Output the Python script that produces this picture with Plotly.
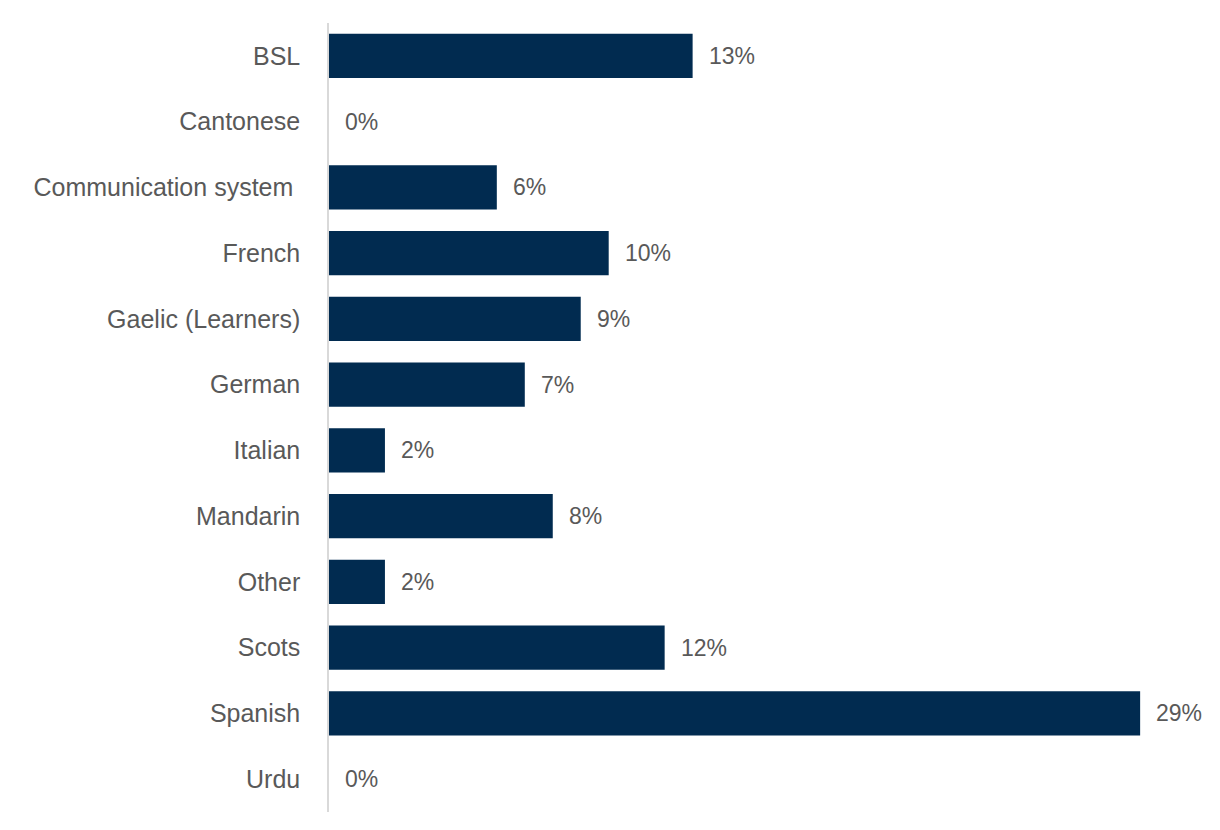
import plotly.graph_objects as go

categories = ["BSL", "Cantonese", "Communication system ", "French", "Gaelic (Learners)",
              "German", "Italian", "Mandarin", "Other", "Scots", "Spanish", "Urdu"]
values = [13, 0, 6, 10, 9, 7, 2, 8, 2, 12, 29, 0]
labels = [f"{v}%" for v in values]

bar_color = "#012b50"
text_color = "#595959"
font_family = "Liberation Sans, Arial, sans-serif"

fig = go.Figure()
fig.add_trace(go.Bar(
    x=values, y=categories, orientation="h",
    marker=dict(color=bar_color, line=dict(width=0)),
    hoverinfo="skip",
))

for c, v, t in zip(categories, values, labels):
    fig.add_annotation(x=v, y=c, text=t, showarrow=False, xanchor="left",
                       xshift=14, font=dict(size=23, color=text_color, family=font_family))

fig.update_layout(
    width=1220, height=830,
    margin=dict(l=329, r=20, t=23, b=18),
    paper_bgcolor="white", plot_bgcolor="white",
    bargap=0.33,
    showlegend=False,
    font=dict(family=font_family, color=text_color),
)
fig.update_xaxes(range=[0, 31.14], showgrid=False, zeroline=False, showticklabels=False,
                 showline=False, ticks="")
fig.update_yaxes(autorange="reversed", categoryorder="array", categoryarray=categories,
                 showline=True, linecolor="#d9d9d9", linewidth=1.5, showgrid=False,
                 ticks="", ticklabelstandoff=22,
                 tickfont=dict(size=25, color=text_color, family=font_family))

fig.write_html("out.html")
